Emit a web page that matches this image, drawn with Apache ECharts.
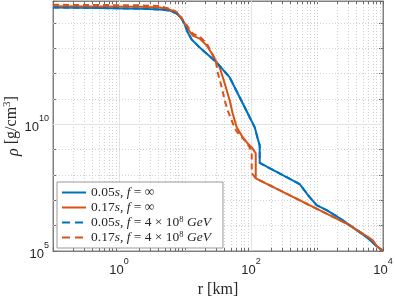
<!DOCTYPE html>
<html>
<head>
<meta charset="utf-8">
<script src="https://cdn.jsdelivr.net/npm/echarts@6/dist/echarts.min.js"></script>
<style>html,body{margin:0;padding:0;background:#fff;}#c{width:395px;height:296px;}</style>
</head>
<body>
<div id="c"></div>
<script>
// ---- data (r in km, rho in g/cm^3) ----
const rBlue   = [0.1, 0.514, 2.07, 4.16, 5.89, 7.52, 8.95, 9.93, 11.0, 12.7, 15.1, 16.7, 30.3, 47.6, 74.8, 95.5, 114, 126, 135.5, 135.5, 546, 773, 986, 1397, 2198, 3114, 5623, 7980, 10000];
const rhoBlue = [4.1e14, 3.9e14, 3.7e14, 3.4e14, 3.1e14, 2.34e14, 1.48e14, 8.7e13, 4.2e13, 2.2e13, 1.4e13, 1.07e13, 2.75e12, 7.1e11, 6.8e10, 1.9e10, 7.6e9, 2.8e9, 1.48e9, 3.0e8, 4.4e7, 1.35e7, 6.5e6, 4.1e6, 2.0e6, 1.05e6, 3.55e5, 1.58e5, 1e5];

const rOrange   = [0.1, 2.07, 4.16, 5.89, 7.78, 9.27, 11.0, 13.1, 16.7, 21.4, 25.4, 29.2, 33.6, 40.0, 47.6, 52.8, 60.8, 74.8, 89.1, 102.5, 118, 118, 3114, 6934, 7980, 10000];
const rhoOrange = [4.54e14, 4.43e14, 4.07e14, 3.4e14, 2.35e14, 1.23e14, 6.0e13, 3.17e13, 2.43e13, 1.29e13, 6.3e12, 3.3e12, 1.75e12, 4.1e11, 8.8e10, 2.7e10, 7.6e9, 3.1e9, 1.78e9, 1.23e9, 7.2e8, 7.4e7, 1.05e6, 2.7e5, 1.58e5, 1e5];

const rBlueF   = rBlue;
const rhoBlueF = rhoBlue;

const rOrangeF   = [0.1, 2.07, 4.16, 5.89, 7.78, 9.27, 11.0, 13.1, 16.7, 21.4, 25.4, 29.2, 31.3, 36.0, 40.0, 44.4, 51.0, 56.6, 67.5, 80.3, 95.5, 102.5, 102.5, 118, 3114, 6934, 7980, 10000];
const rhoOrangeF = [5.25e14, 5.0e14, 4.64e14, 3.7e14, 2.57e14, 1.35e14, 7.2e13, 3.8e13, 2.9e13, 1.55e13, 6.8e12, 3.3e12, 1.12e12, 2.9e11, 8.8e10, 3.55e10, 1.44e10, 6.9e9, 3.7e9, 2.36e9, 1.23e9, 7.9e8, 1.18e8, 7.4e7, 1.05e6, 2.7e5, 1.58e5, 1e5];

const seriesNames = ['0.05s, f = ∞', '0.17s, f = ∞', '0.05s, f = 4 × 10^8 GeV', '0.17s, f = 4 × 10^8 GeV'];
const legendRich  = ['0.05{i|s}, {i|f} = ∞', '0.17{i|s}, {i|f} = ∞', '0.05{i|s}, {i|f} = 4 × 10{sup|8} {i|GeV}', '0.17{i|s}, {i|f} = 4 × 10{sup|8} {i|GeV}'];
const legendDashed = [false, false, true, true];

const xMin = 0.1, xMax = 1e4;
const yMin = 1e5, yMax = 7.4e14;
const xLabelExps = [0, 2, 4];
const yLabelExps = [5, 10];
const xMajorGridExps = [0, 2];
const yMajorGridExps = [10];

const BLUE = '#0072BD', ORANGE = '#D95319';
const SERIF = '"Liberation Serif", "DejaVu Serif", serif';
const SANS = '"Liberation Sans", Arial, sans-serif';
const ICON_SOLID = 'path://M0,0H24V2H0Z';
const ICON_DASH = 'path://M0,0H8V2H0Z M13,0H21V2H13Z M24,0H24V2H24Z';

function zip(a, b) { return a.map((v, i) => [v, b[i]]); }
function expOf(v) { const e = Math.log10(v); const r = Math.round(e); return Math.abs(e - r) < 1e-6 ? r : null; }

// grid lines & minor ticks (axes furniture) built with axis values
const furniture = [];
const tickFy = Math.pow(10, 3 / 25.4);
for (let d = -1; d <= 3; d++) {
  for (let k = 1; k <= 9; k++) {
    const v = k * Math.pow(10, d);
    if (v <= xMin || v >= xMax) continue;
    const major = (k === 1 && xMajorGridExps.includes(d));
    furniture.push({ xAxis: v, lineStyle: major ? { color: '#e3e3e3', type: 'solid', width: 1 } : { color: '#d0d0d0', type: [1, 2], width: 1 } });
    if (k > 1) {
      furniture.push([{ coord: [v, yMin], lineStyle: { color: '#6a6a6a', type: 'solid', width: 1 } }, { coord: [v, yMin * tickFy] }]);
      furniture.push([{ coord: [v, yMax / tickFy], lineStyle: { color: '#6a6a6a', type: 'solid', width: 1 } }, { coord: [v, yMax] }]);
    }
  }
}
for (let d = 6; d <= 14; d++) {
  const v = Math.pow(10, d);
  const major = yMajorGridExps.includes(d);
  furniture.push({ yAxis: v, lineStyle: major ? { color: '#e3e3e3', type: 'solid', width: 1 } : { color: '#d0d0d0', type: [1, 2], width: 1 } });
}

const chart = echarts.init(document.getElementById('c'), null, { renderer: 'canvas' });
const axisCommon = {
  type: 'log', logBase: 10,
  axisLine: { show: true, lineStyle: { color: '#808080', width: 1 } },
  axisTick: { show: true, inside: true, length: 4, lineStyle: { color: '#6a6a6a' } },
  splitLine: { show: false },
  minorTick: { show: false }
};
const supRich = {
  b: { fontFamily: SANS, fontSize: 13, color: '#262626', lineHeight: 20, verticalAlign: 'bottom' },
  sup: { fontFamily: SANS, fontSize: 9, color: '#262626', lineHeight: 20, verticalAlign: 'top' }
};

chart.setOption({
  animation: false,
  backgroundColor: '#fff',
  grid: { left: 53, right: 12, top: 1, bottom: 45, show: true, borderColor: '#808080', borderWidth: 1,
          containLabel: false, outerBoundsMode: 'none' },
  xAxis: [
    Object.assign({}, axisCommon, {
      min: xMin, max: xMax, splitNumber: 5,
      name: 'r [km]', nameLocation: 'middle', nameGap: 28,
      nameTextStyle: { fontFamily: SERIF, fontSize: 16, color: '#262626' },
      axisLabel: {
        margin: 6,
        formatter: v => { const e = expOf(v); return (e !== null && xLabelExps.includes(e)) ? '{b|10}{sup|' + e + '}' : ''; },
        rich: supRich
      }
    }),
    Object.assign({}, axisCommon, { min: xMin, max: xMax, splitNumber: 5, position: 'top', axisLabel: { show: false } })
  ],
  yAxis: [
    Object.assign({}, axisCommon, {
      min: yMin, max: yMax, splitNumber: 10,
      name: '{i|ρ} [g/cm{sup|3}]', nameLocation: 'middle', nameGap: 31, nameRotate: 90,
      nameMoveOverlap: false,
      nameTextStyle: {
        fontFamily: SERIF, fontSize: 16, color: '#262626',
        rich: {
          i: { fontFamily: SERIF, fontStyle: 'italic', fontSize: 16, color: '#262626', lineHeight: 20, verticalAlign: 'bottom' },
          sup: { fontFamily: SERIF, fontSize: 11, color: '#262626', lineHeight: 20, verticalAlign: 'top' }
        }
      },
      axisLabel: {
        margin: 4,
        showMinLabel: true,
        formatter: v => { const e = expOf(v); return (e !== null && yLabelExps.includes(e)) ? '{b|10}{sup|' + e + '}' : ''; },
        rich: supRich
      }
    }),
    Object.assign({}, axisCommon, { min: yMin, max: yMax, splitNumber: 10, position: 'right', axisLabel: { show: false } })
  ],
  legend: {
    data: seriesNames.map((n, i) => ({ name: n, icon: legendDashed[i] ? ICON_DASH : ICON_SOLID })),
    orient: 'vertical',
    left: 57, top: 182,
    itemWidth: 24, itemHeight: 2, itemGap: 0,
    padding: [3, 12, 3, 5],
    borderColor: '#9a9a9a', borderWidth: 1, backgroundColor: '#fff',
    formatter: name => legendRich[seriesNames.indexOf(name)],
    textStyle: {
      fontFamily: SERIF, fontSize: 13.5, color: '#262626', lineHeight: 15,
      rich: {
        i: { fontFamily: SERIF, fontStyle: 'italic', fontSize: 13.5, color: '#262626', lineHeight: 15 },
        sup: { fontFamily: SERIF, fontSize: 8.5, color: '#262626', lineHeight: 15, verticalAlign: 'top' }
      }
    }
  },
  series: [
    {
      name: 'grid', type: 'line', data: [[1, 1e10]], showSymbol: false, symbol: 'none',
      lineStyle: { width: 0 }, z: 1, silent: true,
      markLine: { z: 1, zlevel: 0, silent: true, symbol: ['none', 'none'], label: { show: false }, animation: false, data: furniture }
    },
    { name: seriesNames[0], type: 'line', data: zip(rBlue, rhoBlue), symbol: 'none', z: 3,
      lineStyle: { color: BLUE, width: 2, type: 'solid' }, itemStyle: { color: BLUE } },
    { name: seriesNames[1], type: 'line', data: zip(rOrange, rhoOrange), symbol: 'none', z: 3,
      lineStyle: { color: ORANGE, width: 2, type: 'solid' }, itemStyle: { color: ORANGE } },
    { name: seriesNames[2], type: 'line', data: zip(rBlueF, rhoBlueF), symbol: 'none', z: 3,
      lineStyle: { color: BLUE, width: 2, type: [6, 4] }, itemStyle: { color: BLUE } },
    { name: seriesNames[3], type: 'line', data: zip(rOrangeF, rhoOrangeF), symbol: 'none', z: 3,
      lineStyle: { color: ORANGE, width: 2, type: [6, 4] }, itemStyle: { color: ORANGE } }
  ]
});
</script>
</body>
</html>
